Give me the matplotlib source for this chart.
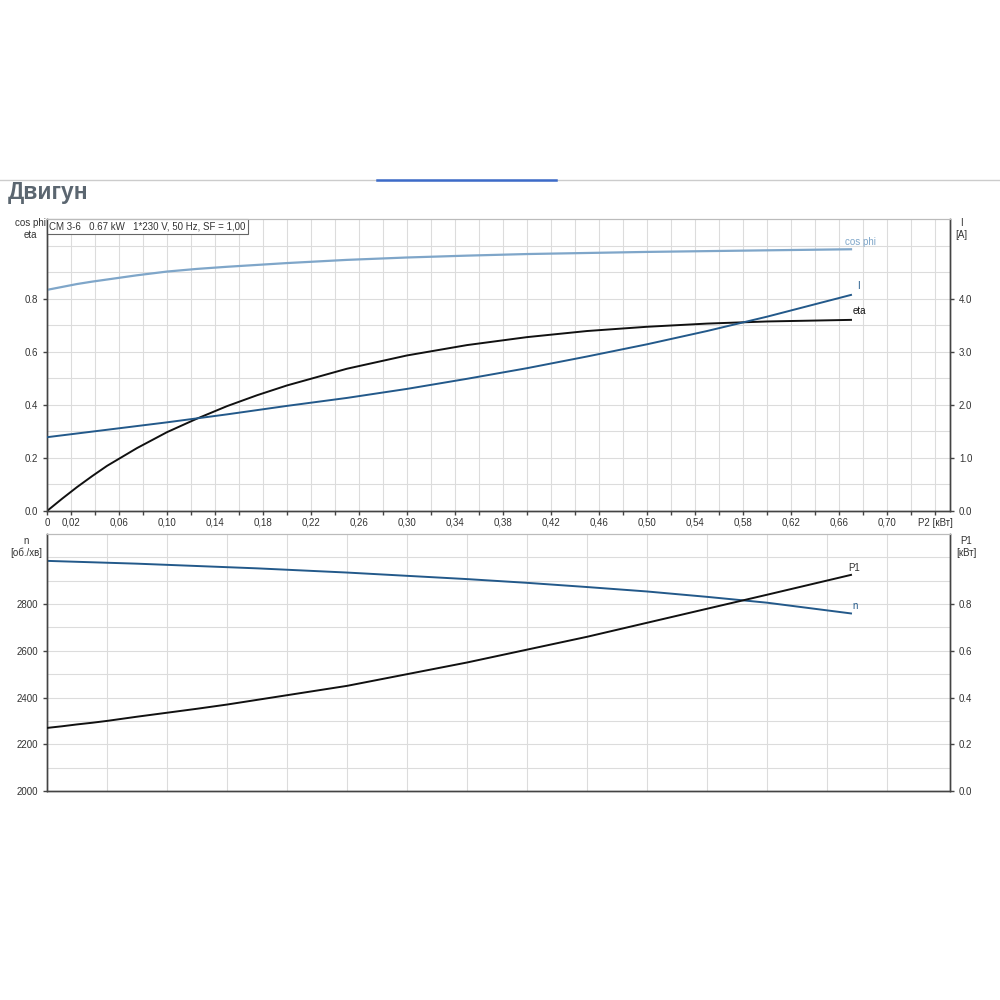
import numpy as np
import matplotlib
matplotlib.use("Agg")
import matplotlib.pyplot as plt
from matplotlib.lines import Line2D

# P2 [kW] sample positions
p2 = [0, 0.0125, 0.025, 0.0375, 0.05, 0.075, 0.1, 0.125, 0.15, 0.175, 0.2, 0.25, 0.3, 0.35,
      0.4, 0.45, 0.5, 0.55, 0.6, 0.67]

# upper panel
cos_phi = [0.833, 0.844, 0.855, 0.864, 0.872, 0.888, 0.902, 0.912, 0.92, 0.927, 0.934,
           0.946, 0.955, 0.962, 0.968, 0.972, 0.976, 0.979, 0.982, 0.986]
eta = [0.0, 0.046, 0.09, 0.131, 0.17, 0.237, 0.297, 0.348, 0.395, 0.436, 0.473,
       0.536, 0.586, 0.625, 0.655, 0.678, 0.694, 0.706, 0.714, 0.72]
current = [1.39, 1.425, 1.46, 1.495, 1.53, 1.60, 1.67, 1.745, 1.82, 1.90, 1.98,
           2.13, 2.30, 2.49, 2.69, 2.91, 3.14, 3.39, 3.66, 4.07]

# lower panel
speed = [2985, 2983, 2981, 2979, 2977, 2973, 2968, 2963, 2958, 2953, 2947,
         2935, 2921, 2907, 2891, 2873, 2854, 2831, 2806, 2760]
p1 = [0.27, 0.277, 0.285, 0.292, 0.30, 0.318, 0.335, 0.352, 0.37, 0.39, 0.41,
      0.45, 0.50, 0.55, 0.605, 0.66, 0.72, 0.78, 0.84, 0.925]

x_labels = ["0", "0,02", "0,06", "0,10", "0,14", "0,18", "0,22", "0,26", "0,30", "0,34",
            "0,38", "0,42", "0,46", "0,50", "0,54", "0,58", "0,62", "0,66", "0,70", "P2 [кВт]"]
x_label_pos = [0, 0.02, 0.06, 0.10, 0.14, 0.18, 0.22, 0.26, 0.30, 0.34,
               0.38, 0.42, 0.46, 0.50, 0.54, 0.58, 0.62, 0.66, 0.70, 0.74]

C_LIGHT = "#7fa6c9"
C_DARK = "#23598a"
C_BLACK = "#111111"
C_AX = "#444444"
C_GRID = "#dcdcdc"
C_TXT = "#333333"

plt.rcParams['font.family'] = ['Liberation Sans', 'DejaVu Sans']

fig = plt.figure(figsize=(10, 10), dpi=100)

# header
fig.text(0.008, 0.807, "Двигун", fontsize=16.5, fontweight="bold", color="#5b6670",
         ha="left", va="center")
fig.add_artist(Line2D([0, 1], [0.820, 0.820], color="#cccccc", lw=1))
fig.add_artist(Line2D([0.377, 0.556], [0.820, 0.820], color="#3d6bc9", lw=1.8))

XMAX = 0.7525


def style_axes(ax):
    for side in ("left", "right", "bottom"):
        ax.spines[side].set_color(C_AX)
        ax.spines[side].set_linewidth(1.0)
    ax.spines["top"].set_color("#bbbbbb")
    ax.tick_params(colors=C_AX, labelcolor=C_TXT, labelsize=7, length=3, width=1)


# ---- upper panel ----
ax1 = fig.add_axes([0.047, 0.489, 0.903, 0.292])
ax1.set_xlim(0, XMAX)
ax1.set_ylim(0, 1.1)
ax1.set_xticks(np.arange(0.02, 0.75, 0.02), minor=True)
ax1.set_xticks(x_label_pos)
ax1.set_xticklabels(x_labels)
ax1.tick_params(axis="x", which="minor", length=3, color=C_AX, width=1)
ax1.set_yticks([0, 0.2, 0.4, 0.6, 0.8])
ax1.set_yticklabels(["0.0", "0.2", "0.4", "0.6", "0.8"])
for xv in np.arange(0.02, 0.75, 0.02):
    ax1.axvline(xv, color=C_GRID, lw=0.8, zorder=0)
for yv in np.arange(0.1, 1.05, 0.1):
    ax1.axhline(yv, color=C_GRID, lw=0.8, zorder=0)
style_axes(ax1)
ax1.tick_params(axis="x", labelsize=7, pad=2)

ax1r = ax1.twinx()
ax1r.set_ylim(0, 5.5)
ax1r.set_yticks([0, 1, 2, 3, 4])
ax1r.set_yticklabels(["0.0", "1.0", "2.0", "3.0", "4.0"])
style_axes(ax1r)

ax1.plot(p2, cos_phi, color=C_LIGHT, lw=1.6, zorder=3)
ax1.plot(p2, eta, color=C_BLACK, lw=1.4, zorder=3)
ax1r.plot(p2, current, color=C_DARK, lw=1.4, zorder=3)

ax1.text(0.665, 0.995, "cos phi", color=C_LIGHT, fontsize=7, ha="left", va="bottom")
ax1.text(0.675, 0.83, "I", color=C_DARK, fontsize=7, ha="left", va="bottom")
ax1.text(0.671, 0.735, "eta", color=C_BLACK, fontsize=7, ha="left", va="bottom")

ax1.text(0.002, 1.09, "CM 3-6   0.67 kW   1*230 V, 50 Hz, SF = 1,00", fontsize=7,
         color=C_TXT, ha="left", va="top",
         bbox=dict(boxstyle="square,pad=0.25", fc="white", ec="#666666", lw=0.8))

fig.text(0.030, 0.771, "cos phi\neta", fontsize=7, color=C_TXT, ha="center", va="center",
         linespacing=1.2)
fig.text(0.961, 0.771, "I\n[A]", fontsize=7, color=C_TXT, ha="center", va="center",
         linespacing=1.2)

# ---- lower panel ----
ax2 = fig.add_axes([0.047, 0.209, 0.903, 0.257])
ax2.set_xlim(0, XMAX)
ax2.set_ylim(2000, 3100)
ax2.set_xticks([])
ax2.set_yticks([2000, 2200, 2400, 2600, 2800])
for xv in np.arange(0.05, 0.75, 0.05):
    ax2.axvline(xv, color=C_GRID, lw=0.8, zorder=0)
for yv in range(2100, 3100, 100):
    ax2.axhline(yv, color=C_GRID, lw=0.8, zorder=0)
style_axes(ax2)

ax2r = ax2.twinx()
ax2r.set_ylim(0, 1.1)
ax2r.set_yticks([0, 0.2, 0.4, 0.6, 0.8])
ax2r.set_yticklabels(["0.0", "0.2", "0.4", "0.6", "0.8"])
style_axes(ax2r)

ax2.plot(p2, speed, color=C_DARK, lw=1.4, zorder=3)
ax2r.plot(p2, p1, color=C_BLACK, lw=1.4, zorder=3)

ax2r.text(0.668, 0.935, "P1", color=C_TXT, fontsize=7, ha="left", va="bottom")
ax2.text(0.671, 2770, "n", color=C_DARK, fontsize=7, ha="left", va="bottom")

fig.text(0.026, 0.453, "n\n[об./хв]", fontsize=7, color=C_TXT, ha="center", va="center",
         linespacing=1.2)
fig.text(0.966, 0.453, "P1\n[кВт]", fontsize=7, color=C_TXT, ha="center", va="center",
         linespacing=1.2)

fig.savefig("out.png", dpi=100, facecolor="white")
